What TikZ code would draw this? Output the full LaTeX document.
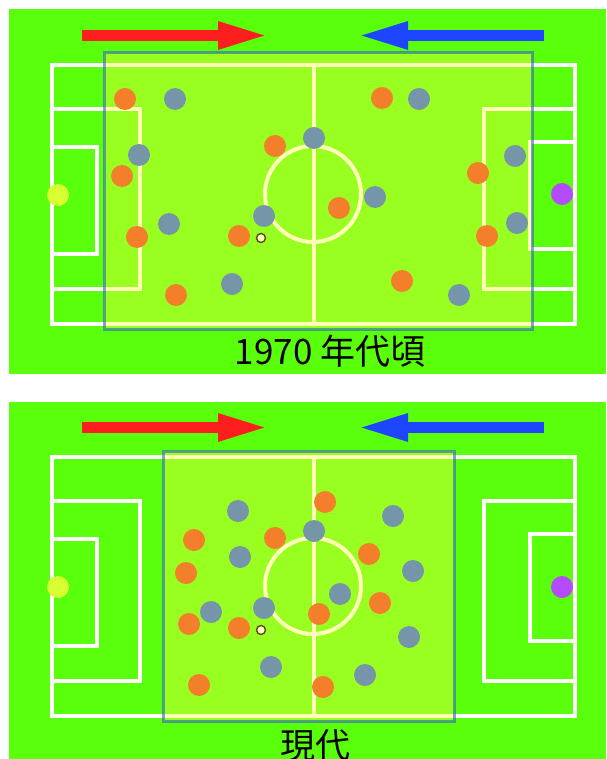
\documentclass[tikz,border=0pt]{standalone}
\usepackage{fontspec}
\setmainfont{Noto Sans CJK JP}
\usetikzlibrary{arrows.meta}
\definecolor{Pitch}{HTML}{5AFF0B}
\definecolor{Zone}{HTML}{FFFF44}
\definecolor{ZoneLine}{HTML}{2F63C8}
\definecolor{Home}{HTML}{F47F2A}
\definecolor{Away}{HTML}{7596A8}
\definecolor{HomeGK}{HTML}{D7FF32}
\definecolor{AwayGK}{HTML}{B44BFF}
\definecolor{AttRed}{HTML}{FF1E1E}
\definecolor{AttBlue}{HTML}{1E46FF}
\definecolor{BallFill}{HTML}{FFFFB8}
\definecolor{BallLine}{HTML}{5A4A10}
\tikzset{
  home/.style={circle,fill=Home,minimum size=22pt,inner sep=0pt},
  away/.style={circle,fill=Away,minimum size=22pt,inner sep=0pt},
  keeper/.style={circle,minimum size=22pt,inner sep=0pt},
  ball/.style={circle,draw=BallLine,fill=BallFill,line width=1.4pt,minimum size=9pt,inner sep=0pt},
  lines/.style={draw=white,line width=4pt},
  zone/.style={fill=Zone,fill opacity=.38,draw=ZoneLine,draw opacity=.6,line width=3pt},
  attack/.style={line width=11pt,-{Triangle[length=51pt,width=25pt]}},
  era/.style={font=\fontsize{35}{40}\selectfont,inner sep=0pt},
}
\begin{document}
\begin{tikzpicture}[x=1pt,y=-1pt]
  \useasboundingbox (0,0) rectangle (606,759);
  % two panels
  \fill[Pitch] (9,9) rectangle (606,374);
  \fill[Pitch] (9,402) rectangle (606,759);
  \foreach \oy in {0,392}{
    \begin{scope}[shift={(0,\oy)}]
      \draw[lines] (52,65) rectangle (575,324);
      \draw[lines] (314,65) -- (314,324);
      \draw[lines] (313,194) circle[radius=48];
      \draw[lines] (52,109) rectangle (140,289);
      \draw[lines] (52,147) rectangle (97,254);
      \draw[lines] (575,109) rectangle (484,289);
      \draw[lines] (575,142) rectangle (530,249);
      \draw[attack,AttRed] (82,35.5) -- (269,35.5);
      \draw[attack,AttBlue] (544,35.5) -- (357,35.5);
    \end{scope}
  }
  % compact zones
  \draw[zone] (104,53) rectangle (532,329);
  \draw[zone] (163,451) rectangle (454,721);
  % 1970s
  \foreach \x/\y [count=\i] in {125/99,122/176,137/237,275/146,239/236,176/295,382/98,339/208,478/173,487/236,402/281}
    \node[home] (ha\i) at (\x,\y) {};
  \foreach \x/\y [count=\i] in {175/99,139/155,169/224,264/216,232/284,314/138,419/99,375/197,515/156,517/223,459/295}
    \node[away] (aa\i) at (\x,\y) {};
  \node[keeper,fill=HomeGK] (hka) at (58,195) {};
  \node[keeper,fill=AwayGK] (aka) at (562,194) {};
  \node[ball] (balla) at (261,238) {};
  \node[era] (eraa) at (330,351) {1970 年代頃};
  % today
  \foreach \x/\y [count=\i] in {194/540,275/538,186/573,189/624,239/628,199/685,325/502,369/554,380/603,319/614,323/687}
    \node[home] (hb\i) at (\x,\y) {};
  \foreach \x/\y [count=\i] in {238/511,240/557,211/612,264/608,271/667,314/531,393/516,413/571,340/594,409/637,365/675}
    \node[away] (ab\i) at (\x,\y) {};
  \node[keeper,fill=HomeGK] (hkb) at (58,587) {};
  \node[keeper,fill=AwayGK] (akb) at (562,587) {};
  \node[ball] (ballb) at (261,630) {};
  \node[era] (erab) at (315,745) {現代};
\end{tikzpicture}
\end{document}
